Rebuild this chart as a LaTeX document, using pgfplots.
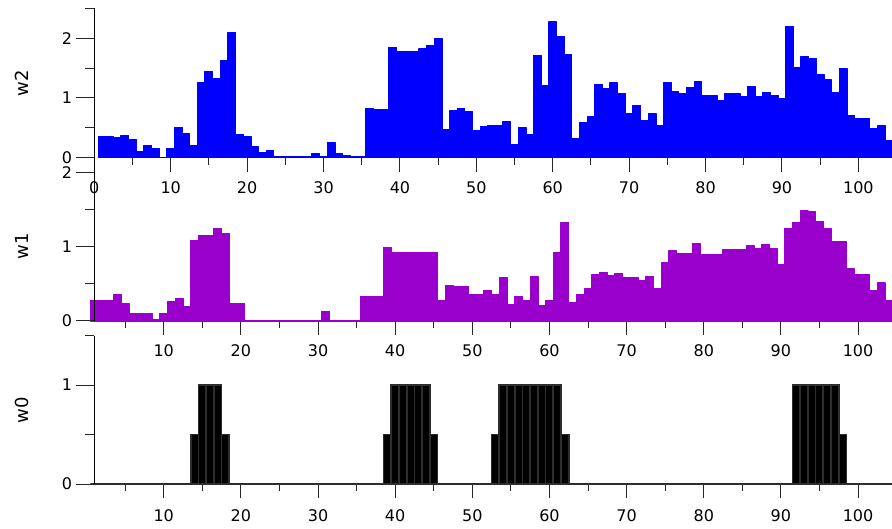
\documentclass[border=0pt]{standalone}
\usepackage{pgfplots}
\pgfplotsset{compat=1.18}
\usepackage{fontspec}
\setmainfont{DejaVu Sans}
\definecolor{w2blue}{RGB}{0,0,255}
\definecolor{w1purple}{RGB}{153,0,204}
\pgfplotsset{
  base/.style={scale only axis, width=797.7pt, anchor=south west,
    tick align=outside, /pgf/number format/assume math mode=true,
    tick label style={font=\fontsize{16}{18}\selectfont, black},
    tick style={black!85, line width=1pt}},
  xpart/.style={base, axis y line=none, axis x line*=bottom,
    x axis line style={draw=none},
    major tick length=14pt, minor tick length=7pt,
    xticklabel style={anchor=north, yshift=-6pt}},
  ypart/.style={base, axis x line=none, axis y line*=left,
    y axis line style={black, line width=1pt, -},
    major tick length=18.7pt, minor tick length=9.4pt,
    yticklabel style={anchor=east},
    ylabel style={anchor=center, font=\fontsize{18}{20}\selectfont}},
}
\begin{document}
\begin{tikzpicture}
\useasboundingbox (0,0) rectangle (892pt,528pt);
% ---------------- top panel w2 ----------------
\begin{axis}[xpart, at={(94.3pt,370.3pt)}, height=149.4pt,
  xmin=0, xmax=104.4, ymin=0, ymax=2.5,
  xtick={0,10,...,100}, minor xtick={5,15,...,95}]
\addplot[ybar, bar width=1, bar shift=0pt, fill=w2blue, draw=w2blue, line width=1.2pt, line join=round] coordinates {
(1,0.35) (2,0.35) (3,0.33) (4,0.37) (5,0.30) (6,0.11) (7,0.21) (8,0.15) (9,0.01) (10,0.15)
(11,0.50) (12,0.40) (13,0.20) (14,1.25) (15,1.44) (16,1.33) (17,1.63) (18,2.09) (19,0.39) (20,0.35)
(21,0.18) (22,0.08) (23,0.12) (24,0.02) (25,0.02) (26,0.02) (27,0.02) (28,0.02) (29,0.07) (30,0.02)
(31,0.25) (32,0.07) (33,0.03) (34,0.02) (35,0.02) (36,0.82) (37,0.81) (38,0.81) (39,1.85) (40,1.77)
(41,1.77) (42,1.77) (43,1.82) (44,1.88) (45,1.99) (46,0.47) (47,0.78) (48,0.82) (49,0.77) (50,0.46)
(51,0.52) (52,0.53) (53,0.53) (54,0.60) (55,0.22) (56,0.50) (57,0.38) (58,1.71) (59,1.20) (60,2.27)
(61,2.03) (62,1.72) (63,0.32) (64,0.59) (65,0.68) (66,1.22) (67,1.15) (68,1.25) (69,1.07) (70,0.74)
(71,0.88) (72,0.62) (73,0.74) (74,0.54) (75,1.26) (76,1.10) (77,1.07) (78,1.17) (79,1.27) (80,1.04)
(81,1.04) (82,0.95) (83,1.07) (84,1.07) (85,1.02) (86,1.19) (87,1.02) (88,1.09) (89,1.04) (90,0.99)
(91,2.20) (92,1.50) (93,1.69) (94,1.66) (95,1.39) (96,1.30) (97,1.09) (98,1.49) (99,0.71) (100,0.65)
(101,0.65) (102,0.48) (103,0.53) (104,0.28)};
\end{axis}
\begin{axis}[ypart, at={(94.3pt,370.3pt)}, height=149.4pt,
  xmin=0, xmax=104.4, ymin=0, ymax=2.5,
  ytick={0,1,2}, minor ytick={0.5,1.5,2.5},
  ylabel={w2}, ylabel style={at={(axis description cs:-0.091,0.5)}}]
\addplot[draw=none] coordinates {(0,0)};
\end{axis}
% ---------------- middle panel w1 ----------------
\begin{axis}[xpart, at={(94.3pt,207pt)}, height=163.5pt, clip=false,
  xmin=1, xmax=104.4, ymin=0, ymax=2.2,
  xtick={10,20,...,100}, minor xtick={5,15,...,95}]
\addplot[ybar, bar width=1, bar shift=0pt, fill=w1purple, draw=w1purple, line width=1.2pt, line join=round] coordinates {
(1,0.28) (2,0.28) (3,0.27) (4,0.36) (5,0.24) (6,0.10) (7,0.10) (8,0.10) (9,0.02) (10,0.10)
(11,0.26) (12,0.30) (13,0.20) (14,1.08) (15,1.15) (16,1.15) (17,1.24) (18,1.18) (19,0.24) (20,0.24)
(21,0) (22,0) (23,0) (24,0) (25,0) (26,0) (27,0) (28,0) (29,0) (30,0)
(31,0.13) (32,0) (33,0) (34,0) (35,0) (36,0.33) (37,0.33) (38,0.33) (39,0.99) (40,0.92)
(41,0.92) (42,0.92) (43,0.92) (44,0.92) (45,0.92) (46,0.28) (47,0.48) (48,0.46) (49,0.46) (50,0.36)
(51,0.36) (52,0.41) (53,0.36) (54,0.59) (55,0.22) (56,0.33) (57,0.27) (58,0.60) (59,0.21) (60,0.28)
(61,0.92) (62,1.33) (63,0.25) (64,0.36) (65,0.43) (66,0.63) (67,0.65) (68,0.61) (69,0.64) (70,0.59)
(71,0.59) (72,0.55) (73,0.60) (74,0.44) (75,0.79) (76,0.95) (77,0.91) (78,0.91) (79,1.04) (80,0.89)
(81,0.89) (82,0.89) (83,0.96) (84,0.96) (85,0.96) (86,1.02) (87,0.97) (88,1.03) (89,0.98) (90,0.76)
(91,1.24) (92,1.33) (93,1.48) (94,1.47) (95,1.34) (96,1.24) (97,1.07) (98,1.07) (99,0.70) (100,0.63)
(101,0.63) (102,0.41) (103,0.51) (104,0.28)};
\end{axis}
\begin{axis}[ypart, at={(94.3pt,207pt)}, height=163.5pt,
  xmin=1, xmax=104.4, ymin=0, ymax=2.2,
  ytick={0,1,2}, minor ytick={0.5,1.5},
  ylabel={w1}, ylabel style={at={(axis description cs:-0.091,0.456)}}]
\addplot[draw=none] coordinates {(1,0)};
\end{axis}
% ---------------- bottom panel w0 ----------------
\begin{axis}[xpart, at={(94.3pt,44pt)}, height=148.5pt, clip=false,
  xmin=1, xmax=104.4, ymin=0, ymax=1.5,
  xtick={10,20,...,100}, minor xtick={5,15,...,95},
  xticklabel style={yshift=-2pt}]
\addplot[ybar, bar width=1, bar shift=0pt, fill=black, draw=black!82, line width=1.7pt] coordinates {
(1,0) (2,0) (3,0) (4,0) (5,0) (6,0) (7,0) (8,0) (9,0) (10,0)
(11,0) (12,0) (13,0) (14,0.5) (15,1) (16,1) (17,1) (18,0.5) (19,0) (20,0)
(21,0) (22,0) (23,0) (24,0) (25,0) (26,0) (27,0) (28,0) (29,0) (30,0)
(31,0) (32,0) (33,0) (34,0) (35,0) (36,0) (37,0) (38,0) (39,0.5) (40,1)
(41,1) (42,1) (43,1) (44,1) (45,0.5) (46,0) (47,0) (48,0) (49,0) (50,0)
(51,0) (52,0) (53,0.5) (54,1) (55,1) (56,1) (57,1) (58,1) (59,1) (60,1)
(61,1) (62,0.5) (63,0) (64,0) (65,0) (66,0) (67,0) (68,0) (69,0) (70,0)
(71,0) (72,0) (73,0) (74,0) (75,0) (76,0) (77,0) (78,0) (79,0) (80,0)
(81,0) (82,0) (83,0) (84,0) (85,0) (86,0) (87,0) (88,0) (89,0) (90,0)
(91,0) (92,1) (93,1) (94,1) (95,1) (96,1) (97,1) (98,0.5) (99,0) (100,0)
(101,0) (102,0) (103,0) (104,0)};
\end{axis}
\begin{axis}[ypart, at={(94.3pt,44pt)}, height=148.5pt,
  xmin=1, xmax=104.4, ymin=0, ymax=1.5,
  ytick={0,1}, minor ytick={0.5,1.5},
  ylabel={w0}, ylabel style={at={(axis description cs:-0.091,0.498)}}]
\addplot[draw=none] coordinates {(1,0)};
\end{axis}
\end{tikzpicture}
\end{document}
